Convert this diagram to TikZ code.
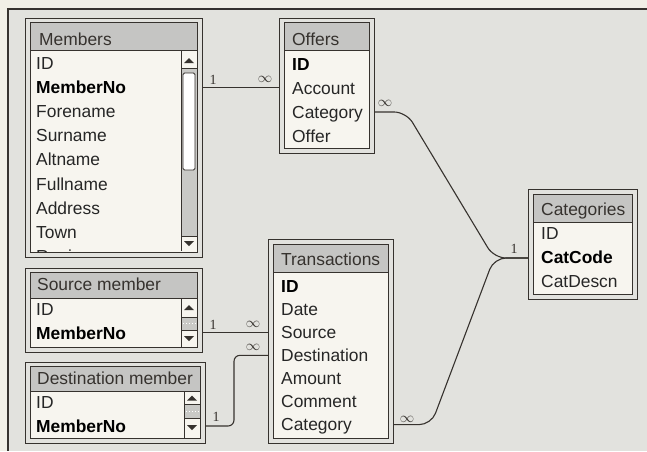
\documentclass[tikz,border=0pt]{standalone}
\usepackage{fontspec}
\setmainfont{Liberation Sans}
\newfontfamily\cardfont{Liberation Serif}
\newcommand\fieldsize{\fontsize{17.4}{20}\selectfont}
\definecolor{ink}{HTML}{36322E}
\definecolor{head}{HTML}{C5C5C3}
\definecolor{body}{HTML}{F7F5EF}
\definecolor{panel}{HTML}{E2E2DE}
\definecolor{page}{HTML}{F1EFE6}
\definecolor{track}{HTML}{C9C9C6}

\begin{document}
\begin{tikzpicture}[
            x=1pt, y=-1pt,
            outerbox/.style={draw=ink, line width=1.2pt, anchor=north west, inner sep=0pt},
            innerbox/.style={draw=ink, line width=1.2pt, fill=body, anchor=north west, inner sep=0pt},
            headbox/.style={draw=ink, line width=0.9pt, fill=head, anchor=north west, inner sep=0pt},
            title/.style={anchor=base west, inner sep=0pt, font=\fieldsize, text=ink},
            field/.style={anchor=base west, inner sep=0pt, text height=12pt, text depth=0pt, font=\fieldsize, text=black!85},
            keyfield/.style={field, font=\fieldsize\bfseries, text=black},
            link/.style={draw=ink, line width=1.1pt, rounded corners=12pt},
            one/.style={font=\cardfont\fontsize{14}{14}\selectfont, inner sep=0pt, text=ink},
            many/.style={font=\fontsize{15}{15}\selectfont, inner sep=0pt, text=ink},
            bar/.style={draw=ink, line width=0.8pt}
        ]
        \useasboundingbox (0,0) rectangle (647,451);
        \fill[page] (0,0) rectangle (647,451);
        \fill[panel] (8,9) rectangle (647,451);
        \draw[ink, line width=1.2pt] (647,9) -- (8,9) -- (8,451);

        % Members
        \node[outerbox, minimum width=177pt, minimum height=239pt] (members) at (25,18) {};
        \node[innerbox, minimum width=167pt, minimum height=230pt] (membersin) at (30,22) {};
        \node[headbox, minimum width=167pt, minimum height=28pt] (membershd) at (30,22) {};
        \node[title] (memberstt) at (39,45) {Members};
        \fill[track] (181,68) rectangle (197,236);
        \draw[bar] (181,50) -- (181,251) (181,68) -- (197,68) (181,236) -- (197,236);
        \draw[bar, fill=white, rounded corners=1.5pt] (183,73) rectangle (195,170);
        \fill[ink] (184,63) -- (194,63) -- (189,58) -- cycle;
        \fill[ink] (184,241) -- (194,241) -- (189,246) -- cycle;
        \begin{scope}
            \clip (30,50) rectangle (181,251);
            \foreach \f/\s [count=\i from 0] in {ID/field, MemberNo/keyfield, Forename/field, Surname/field,
                Altname/field, Fullname/field, Address/field, Town/field, Region/field}
                \node[\s] (mem\i) at (36,{69+24.2*\i}) {\f};
        \end{scope}

        % Offers
        \node[outerbox, minimum width=95pt, minimum height=135pt] (offers) at (279,18) {};
        \node[innerbox, minimum width=85pt, minimum height=126pt] (offersin) at (284,22) {};
        \node[headbox, minimum width=85pt, minimum height=28pt] (offershd) at (284,22) {};
        \node[title] (offerstt) at (292,45) {Offers};
        \foreach \f/\s [count=\i from 0] in {ID/keyfield, Account/field, Category/field, Offer/field}
            \node[\s] (off\i) at (292,{70+24*\i}) {\f};

        % Categories
        \node[outerbox, minimum width=109pt, minimum height=110pt] (cats) at (528,189) {};
        \node[innerbox, minimum width=99pt, minimum height=100pt] (catsin) at (533,194) {};
        \node[headbox, minimum width=99pt, minimum height=28pt] (catshd) at (533,194) {};
        \node[title] (catstt) at (541,215) {Categories};
        \foreach \f/\s [count=\i from 0] in {ID/field, CatCode/keyfield, CatDescn/field}
            \node[\s] (cat\i) at (541,{239+24*\i}) {\f};

        % Transactions
        \node[outerbox, minimum width=125pt, minimum height=204pt] (trans) at (268,239) {};
        \node[innerbox, minimum width=115pt, minimum height=194pt] (transin) at (273,244) {};
        \node[headbox, minimum width=115pt, minimum height=28pt] (transhd) at (273,244) {};
        \node[title] (transtt) at (281,265) {Transactions};
        \foreach \f/\s [count=\i from 0] in {ID/keyfield, Date/field, Source/field, Destination/field,
            Amount/field, Comment/field, Category/field}
            \node[\s] (trn\i) at (281,{292+23.1*\i}) {\f};

        % Source member
        \node[outerbox, minimum width=177pt, minimum height=84pt] (srcmem) at (25,268) {};
        \node[innerbox, minimum width=167pt, minimum height=75pt] (srcmemin) at (30,272) {};
        \node[headbox, minimum width=167pt, minimum height=26pt] (srcmemhd) at (30,272) {};
        \node[title] (srcmemtt) at (37,290) {Source member};
        \fill[track] (181,317) rectangle (197,330);
        \draw[bar] (181,298) -- (181,347) (181,317) -- (197,317) (181,330) -- (197,330);
        \draw[white, dotted, line width=1pt] (183,323.5) -- (196,323.5);
        \fill[ink] (184,310) -- (194,310) -- (189,305) -- cycle;
        \fill[ink] (184,336) -- (194,336) -- (189,341) -- cycle;
        \node[field] (src0) at (36,315) {ID};
        \node[keyfield] (src1) at (36,339) {MemberNo};

        % Destination member
        \node[outerbox, minimum width=180pt, minimum height=81pt] (dstmem) at (25,362) {};
        \node[innerbox, minimum width=170pt, minimum height=72pt] (dstmemin) at (30,366) {};
        \node[headbox, minimum width=170pt, minimum height=25pt] (dstmemhd) at (30,366) {};
        \node[title] (dstmemtt) at (37,384) {Destination member};
        \fill[track] (184,404) rectangle (200,418);
        \draw[bar] (184,391) -- (184,438) (184,404) -- (200,404) (184,418) -- (200,418);
        \draw[white, dotted, line width=1pt] (186,411) -- (199,411);
        \fill[ink] (187,400.5) -- (197,400.5) -- (192,395.5) -- cycle;
        \fill[ink] (187,425) -- (197,425) -- (192,430) -- cycle;
        \node[field] (dst0) at (36,408) {ID};
        \node[keyfield] (dst1) at (36,432) {MemberNo};

        % links
        \coordinate (join) at (494,258);
        \coordinate (dbend) at (234,0);
        \draw[link] (members.east |- mem1) -- (offers.west |- mem1);
        \draw[link] (srcmem.east |- trn2) -- (trans.west |- trn2);
        \draw[link, rounded corners=6pt] (dstmem.east |- dst1) -| (dbend |- trn3) -- (trans.west |- trn3);
        \draw[link] (offers.east |- off2) -- ++(31,0) -- (join) -- (cats.west |- join);
        \draw[link] (trans.east |- trn6) -- ++(37,0) -- (join) -- (cats.west |- join);

        \node[one] (onemem) at (213,80) {1};
        \node[many] (manyoff) at (265,79) {$\infty$};
        \node[many] (manycat) at (385,103) {$\infty$};
        \node[one] (onecat) at (514,249) {1};
        \node[one] (onesrc) at (213,325) {1};
        \node[many] (manysrc) at (253,324) {$\infty$};
        \node[many] (manydst) at (253,347) {$\infty$};
        \node[one] (onedst) at (216,417) {1};
        \node[many] (manytrn) at (407,419) {$\infty$};
    \end{tikzpicture}
\end{document}
